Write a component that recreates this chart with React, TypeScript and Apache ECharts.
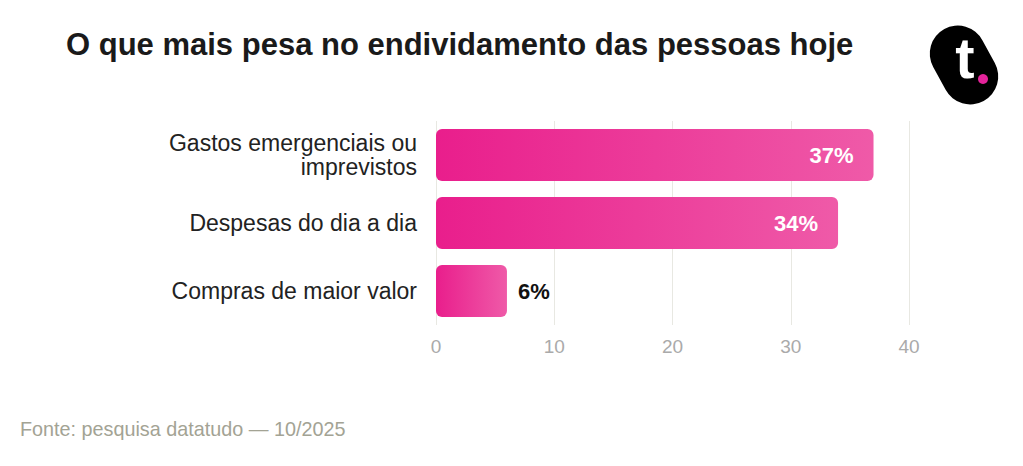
import React, { useEffect, useRef } from "react";
import * as echarts from "echarts";

const categories = ["Gastos emergenciais ou\nimprevistos", "Despesas do dia a dia", "Compras de maior valor"];
const values = [37, 34, 6];
const xTicks = [0, 10, 20, 30, 40];
const titleText = "O que mais pesa no endividamento das pessoas hoje";
const sourceText = "Fonte: pesquisa datatudo — 10/2025";

const FONT = "'Liberation Sans', Arial, sans-serif";

export default function App() {
  const ref = useRef<HTMLDivElement>(null);
  useEffect(() => {
    if (!ref.current) return;
    const chart = echarts.init(ref.current, undefined, { renderer: "svg" });
    const grad = new echarts.graphic.LinearGradient(0, 0, 1, 0, [
      { offset: 0, color: "#e91e8c" },
      { offset: 1, color: "#ef5aa8" },
    ]);
    chart.setOption({
      animation: false,
      backgroundColor: "#ffffff",
      textStyle: { fontFamily: FONT },
      grid: { left: 436, right: 114, top: 121, height: 204, containLabel: false },
      xAxis: {
        type: "value",
        min: xTicks[0],
        max: xTicks[xTicks.length - 1],
        interval: 10,
        axisLine: { show: false },
        axisTick: { show: false },
        axisLabel: { color: "#aaaaaa", fontSize: 19, margin: 12, fontFamily: FONT },
        splitLine: { show: true, lineStyle: { color: "#e8e8e2", width: 1 } },
      },
      yAxis: {
        type: "category",
        inverse: true,
        data: categories,
        axisLine: { show: false },
        axisTick: { show: false },
        axisLabel: { color: "#222222", fontSize: 23, margin: 19, lineHeight: 24, fontFamily: FONT },
      },
      series: [
        {
          type: "bar",
          barWidth: 52,
          data: values.map((v) => {
            const inside = v > 15;
            return {
              value: v,
              itemStyle: { color: grad, borderRadius: 6 },
              label: {
                show: true,
                position: inside ? "insideRight" : "right",
                distance: inside ? 20 : 11,
                formatter: "{c}%",
                color: inside ? "#ffffff" : "#111111",
                fontWeight: "bold",
                fontSize: 22,
                fontFamily: FONT,
              },
            };
          }),
        },
      ],
      graphic: [
        {
          type: "text",
          left: 66,
          top: 29,
          style: { text: titleText, font: `bold 31px ${FONT}`, fill: "#1a1a1a" },
        },
        {
          type: "text",
          left: 20,
          top: 419,
          style: { text: sourceText, font: `19.8px ${FONT}`, fill: "#a3a394" },
        },
        {
          type: "group",
          x: 964,
          y: 65,
          rotation: 0.5,
          children: [
            {
              type: "rect",
              shape: { x: -28, y: -41, width: 56, height: 82, r: 28 },
              style: { fill: "#000000" },
            },
          ],
        },
        {
          type: "text",
          x: 965,
          y: 86,
          style: {
            text: "t",
            font: `bold 58px ${FONT}`,
            fill: "#ffffff",
            align: "center",
            verticalAlign: "bottom",
          },
        },
        {
          type: "circle",
          shape: { cx: 983, cy: 79, r: 5 },
          style: { fill: "#e4239a" },
        },
      ],
    });
    return () => chart.dispose();
  }, []);
  return <div ref={ref} style={{ position: "fixed", left: 0, top: 0, width: 1023, height: 466 }} />;
}
